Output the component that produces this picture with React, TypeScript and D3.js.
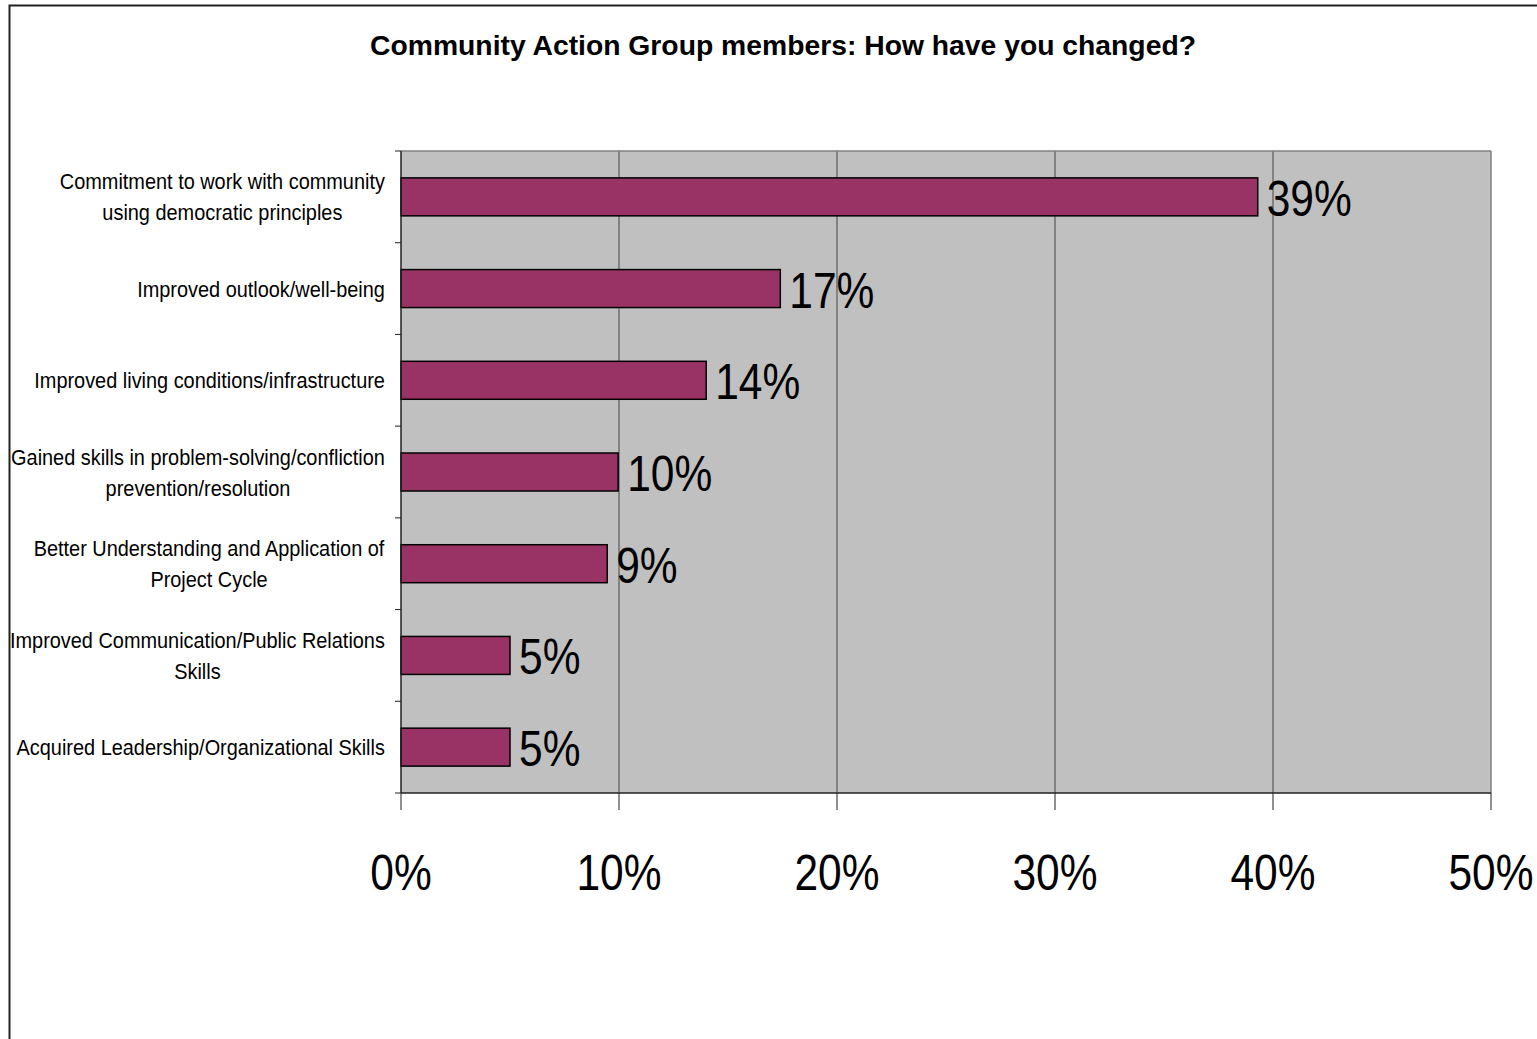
import React from "react";
import * as d3 from "d3";

const categories = [
  ["Commitment to work with community", "using democratic principles"],
  ["Improved outlook/well-being"],
  ["Improved living conditions/infrastructure"],
  ["Gained skills in problem-solving/confliction", "prevention/resolution"],
  ["Better Understanding and Application of", "Project Cycle"],
  ["Improved Communication/Public Relations", "Skills"],
  ["Acquired Leadership/Organizational Skills"],
];
const values = [0.393, 0.174, 0.14, 0.0996, 0.0946, 0.05, 0.05];
const valueLabels = ["39%", "17%", "14%", "10%", "9%", "5%", "5%"];
const xTicks = [0, 0.1, 0.2, 0.3, 0.4, 0.5];
const xTickLabels = ["0%", "10%", "20%", "30%", "40%", "50%"];
const title = "Community Action Group members: How have you changed?";

const W = 1537;
const H = 1039;
const L = 401, R = 1491, T = 151, B = 793;
const font = "'Liberation Sans', Arial, sans-serif";
const bigScale = 0.85;
const catScale = 0.905;
const catSize = 22;
const labelRight = 385;

let ctx: CanvasRenderingContext2D | null = null;
function measure(s: string, size: number): number {
  if (!ctx) ctx = document.createElement("canvas").getContext("2d");
  if (!ctx) return s.length * size * 0.5;
  ctx.font = `${size}px 'Liberation Sans', Arial, sans-serif`;
  return ctx.measureText(s).width;
}

export default function App() {
  const x = d3.scaleLinear().domain([0, 0.5]).range([L, R]);
  const idx = categories.map((_, i) => String(i));
  const y = d3.scaleBand().domain(idx).range([T, B]).padding(0);
  const bw = y.bandwidth();
  const barH = bw * 0.414;
  const bounds = d3.range(categories.length + 1).map((i) => T + i * bw);

  return (
    <svg width={W} height={H} style={{ position: "absolute", left: 0, top: 0, display: "block", background: "#fff" }}>
      <rect x={9.5} y={5.5} width={1600} height={1100} fill="#fff" stroke="#222" strokeWidth={2} />
      <text x={783} y={55} textAnchor="middle" fontFamily={font} fontWeight="bold" fontSize={28.3} fill="#000">
        {title}
      </text>
      {/* plot area */}
      <rect x={L} y={T} width={R - L} height={B - T} fill="#C0C0C0" />
      {xTicks.slice(1, -1).map((t) => (
        <line key={t} x1={x(t)} x2={x(t)} y1={T} y2={B} stroke="#444" strokeWidth={1} />
      ))}
      <line x1={L} x2={R} y1={T} y2={T} stroke="#808080" strokeWidth={1.5} />
      <line x1={R} x2={R} y1={T} y2={B} stroke="#808080" strokeWidth={1.5} />
      {/* bars */}
      {values.map((v, i) => {
        const cy = (y(String(i)) as number) + bw / 2;
        return (
          <g key={i}>
            <rect x={x(0)} y={cy - barH / 2} width={x(v) - x(0)} height={barH} fill="#993366" stroke="#000" strokeWidth={1.5} />
            <text transform={`translate(${x(v) + 9},${cy + 19}) scale(${bigScale},1)`} fontFamily={font} fontSize={50} fill="#000">
              {valueLabels[i]}
            </text>
          </g>
        );
      })}
      {/* axes */}
      <line x1={L} x2={L} y1={T} y2={B} stroke="#222" strokeWidth={1.5} />
      <line x1={L} x2={R} y1={B} y2={B} stroke="#222" strokeWidth={1.5} />
      {bounds.map((b, i) => (
        <line key={i} x1={L - 6} x2={L} y1={b} y2={b} stroke="#222" strokeWidth={1} />
      ))}
      {xTicks.map((t, i) => (
        <g key={i}>
          <line x1={x(t)} x2={x(t)} y1={B} y2={B + 17} stroke="#222" strokeWidth={1} />
          <text transform={`translate(${x(t)},890) scale(${bigScale},1)`} textAnchor="middle" fontFamily={font} fontSize={50} fill="#000">
            {xTickLabels[i]}
          </text>
        </g>
      ))}
      {/* category labels */}
      {categories.map((lines, i) => {
        const cy = (y(String(i)) as number) + bw / 2;
        const lh = 31;
        const start = cy - ((lines.length - 1) * lh) / 2;
        const blockW = Math.max(...lines.map((ln) => measure(ln, catSize))) * catScale;
        const cx = labelRight - blockW / 2;
        return (
          <g key={i}>
            {lines.map((ln, j) => (
              <text
                key={j}
                transform={`translate(${cx},${start + j * lh + 8}) scale(${catScale},1)`}
                textAnchor="middle"
                fontFamily={font}
                fontSize={catSize}
                fill="#000"
              >
                {ln}
              </text>
            ))}
          </g>
        );
      })}
    </svg>
  );
}
